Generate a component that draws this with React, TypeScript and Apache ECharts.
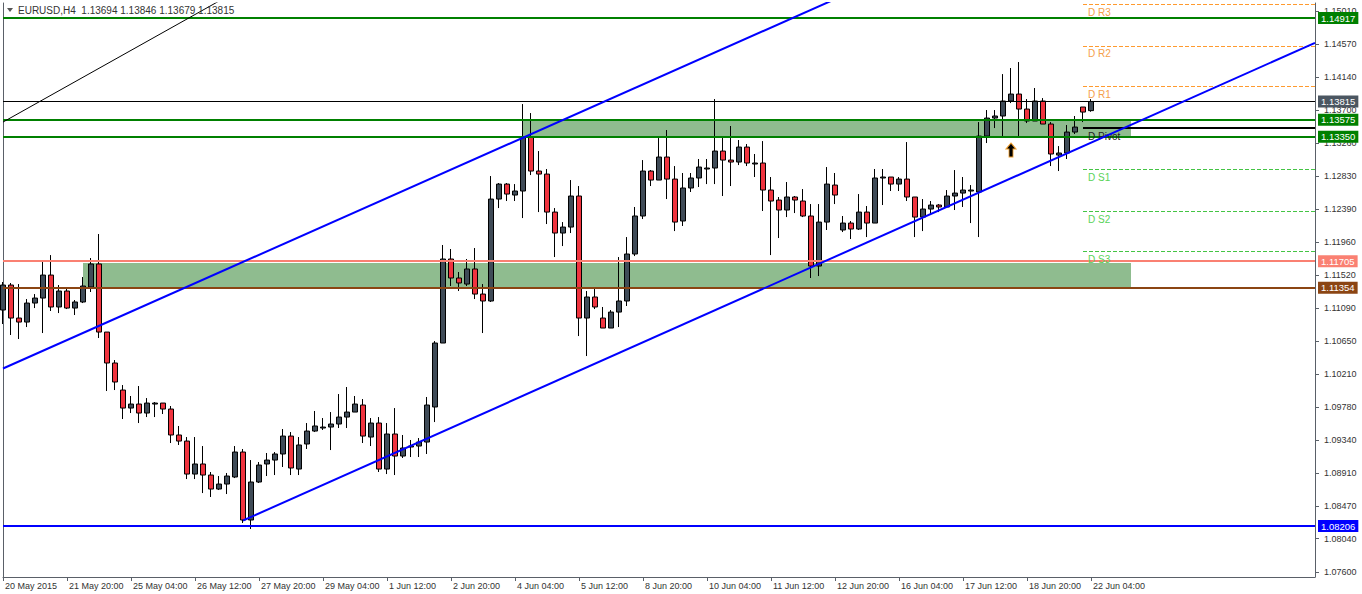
import React, { useEffect, useRef } from "react";
import * as echarts from "echarts";

// ---------- DATA ----------
const symbolName = "EURUSD,H4";

const tickLabels = [
  "20 May 2015", "21 May 20:00", "25 May 04:00", "26 May 12:00", "27 May 20:00",
  "29 May 04:00", "1 Jun 12:00", "2 Jun 20:00", "4 Jun 04:00", "5 Jun 12:00",
  "8 Jun 20:00", "10 Jun 04:00", "11 Jun 12:00", "12 Jun 20:00", "16 Jun 04:00",
  "17 Jun 12:00", "18 Jun 20:00", "22 Jun 04:00",
];

const priceTicks = [
  1.1501, 1.1457, 1.1414, 1.137, 1.1326, 1.1283, 1.1239, 1.1196, 1.1152,
  1.1109, 1.1065, 1.1021, 1.0978, 1.0934, 1.0891, 1.0847, 1.0804, 1.076,
];

// [open, close, low, high]
const candles = [
  [1.1106, 1.1139, 1.10875, 1.1143],
  [1.1139, 1.10954, 1.1073, 1.11417],
  [1.10954, 1.10901, 1.10677, 1.11403],
  [1.10901, 1.11152, 1.10835, 1.11205],
  [1.11152, 1.11218, 1.11086, 1.11271],
  [1.11218, 1.11522, 1.10756, 1.11707],
  [1.11522, 1.111, 1.11047, 1.11786],
  [1.111, 1.11311, 1.1102, 1.1139],
  [1.11311, 1.11086, 1.11073, 1.11364],
  [1.11086, 1.11166, 1.10994, 1.11192],
  [1.11166, 1.11377, 1.11152, 1.11496],
  [1.11364, 1.11668, 1.11298, 1.11747],
  [1.11668, 1.10769, 1.1069, 1.12064],
  [1.10769, 1.1036, 1.0999, 1.10769],
  [1.1036, 1.10109, 1.10003, 1.10399],
  [1.10003, 1.09765, 1.0962, 1.10069],
  [1.09765, 1.09818, 1.09699, 1.09924],
  [1.09818, 1.09699, 1.09567, 1.10056],
  [1.09699, 1.09831, 1.09646, 1.09897],
  [1.09818, 1.09831, 1.09646, 1.09845],
  [1.09831, 1.09752, 1.09686, 1.09831],
  [1.09752, 1.09409, 1.09303, 1.09792],
  [1.09409, 1.09329, 1.09277, 1.09528],
  [1.09329, 1.08893, 1.08827, 1.09382],
  [1.08893, 1.09026, 1.08827, 1.09382],
  [1.09026, 1.0888, 1.08642, 1.09263],
  [1.0888, 1.08695, 1.0859, 1.0892],
  [1.08695, 1.08761, 1.08682, 1.08867],
  [1.08761, 1.08867, 1.08629, 1.08907],
  [1.08854, 1.09184, 1.0884, 1.09263],
  [1.09184, 1.08286, 1.08246, 1.09224],
  [1.08286, 1.08788, 1.08167, 1.09078],
  [1.08788, 1.09012, 1.08775, 1.09052],
  [1.09026, 1.09078, 1.08867, 1.09171],
  [1.09078, 1.09158, 1.0888, 1.09184],
  [1.09158, 1.09395, 1.08986, 1.09488],
  [1.09395, 1.08973, 1.0888, 1.09448],
  [1.08959, 1.09277, 1.0888, 1.09382],
  [1.0929, 1.09461, 1.09224, 1.09567],
  [1.09461, 1.09528, 1.09448, 1.09726],
  [1.09501, 1.09514, 1.09475, 1.09633],
  [1.09514, 1.09554, 1.0921, 1.09712],
  [1.09554, 1.09646, 1.09501, 1.0995],
  [1.09646, 1.09712, 1.09501, 1.10043],
  [1.09712, 1.09818, 1.09712, 1.09924],
  [1.09805, 1.09395, 1.09303, 1.09884],
  [1.09382, 1.09567, 1.09263, 1.09633],
  [1.09567, 1.08959, 1.0892, 1.09646],
  [1.08959, 1.09422, 1.08893, 1.09567],
  [1.09422, 1.09131, 1.0888, 1.09765],
  [1.09131, 1.09237, 1.09105, 1.09409],
  [1.0925, 1.09263, 1.09118, 1.09343],
  [1.09263, 1.09316, 1.09118, 1.09369],
  [1.09316, 1.09805, 1.09158, 1.09911],
  [1.09779, 1.10624, 1.0958, 1.1065],
  [1.10624, 1.11734, 1.10624, 1.11919],
  [1.11734, 1.11483, 1.11377, 1.11866],
  [1.11483, 1.11417, 1.11311, 1.11562],
  [1.11403, 1.11602, 1.11377, 1.11734],
  [1.11602, 1.11271, 1.11205, 1.11879],
  [1.11271, 1.11179, 1.10756, 1.11403],
  [1.11179, 1.12526, 1.11166, 1.1283],
  [1.12526, 1.12724, 1.12407, 1.12738],
  [1.12724, 1.12592, 1.125, 1.12738],
  [1.12579, 1.12632, 1.125, 1.12724],
  [1.12632, 1.13345, 1.12275, 1.13781],
  [1.13345, 1.12896, 1.12843, 1.13662],
  [1.12896, 1.12856, 1.12354, 1.1316],
  [1.12856, 1.12354, 1.12196, 1.12923],
  [1.12354, 1.12077, 1.1176, 1.12407],
  [1.12077, 1.12156, 1.11905, 1.12222],
  [1.12156, 1.12566, 1.12077, 1.12777],
  [1.12566, 1.10954, 1.10716, 1.12698],
  [1.10954, 1.11232, 1.10452, 1.11311],
  [1.11232, 1.111, 1.11073, 1.11337],
  [1.10954, 1.10822, 1.10822, 1.111],
  [1.10822, 1.11033, 1.10822, 1.1106],
  [1.11033, 1.11179, 1.10835, 1.1176],
  [1.11179, 1.118, 1.11113, 1.12024],
  [1.118, 1.12302, 1.11773, 1.12421],
  [1.12302, 1.12896, 1.12262, 1.13041],
  [1.12896, 1.12777, 1.12698, 1.12909],
  [1.12777, 1.13081, 1.12777, 1.13332],
  [1.13081, 1.1279, 1.12526, 1.13438],
  [1.1279, 1.12222, 1.12103, 1.12962],
  [1.12236, 1.12672, 1.1217, 1.1287],
  [1.12672, 1.12804, 1.12619, 1.1287],
  [1.12804, 1.12949, 1.12685, 1.13055],
  [1.12923, 1.12936, 1.12724, 1.13055],
  [1.12936, 1.1316, 1.12724, 1.13847],
  [1.1316, 1.13041, 1.12566, 1.13332],
  [1.13041, 1.13015, 1.12698, 1.13491],
  [1.13015, 1.13213, 1.12975, 1.13306],
  [1.13213, 1.13002, 1.12962, 1.13253],
  [1.12989, 1.13002, 1.12817, 1.13121],
  [1.13002, 1.12645, 1.12368, 1.13292],
  [1.12645, 1.125, 1.11786, 1.12817],
  [1.12513, 1.12381, 1.12011, 1.12553],
  [1.12381, 1.12553, 1.12288, 1.12751],
  [1.12553, 1.12513, 1.12341, 1.12566],
  [1.125, 1.12302, 1.12288, 1.12658],
  [1.12302, 1.11641, 1.11483, 1.1246],
  [1.11641, 1.12222, 1.11509, 1.1246],
  [1.12222, 1.12724, 1.12117, 1.12949],
  [1.12711, 1.12579, 1.1246, 1.1287],
  [1.12117, 1.12209, 1.1209, 1.12302],
  [1.12209, 1.1213, 1.11998, 1.12236],
  [1.1213, 1.12354, 1.12117, 1.12592],
  [1.12354, 1.12209, 1.12024, 1.12434],
  [1.12209, 1.12804, 1.12209, 1.12923],
  [1.12804, 1.12817, 1.12447, 1.12923],
  [1.12817, 1.12724, 1.12632, 1.12817],
  [1.12724, 1.1279, 1.12632, 1.12817],
  [1.1279, 1.12553, 1.125, 1.13279],
  [1.12553, 1.12288, 1.12024, 1.12553],
  [1.12288, 1.12394, 1.12103, 1.12526],
  [1.12394, 1.12447, 1.12328, 1.125],
  [1.12447, 1.12421, 1.12354, 1.1246],
  [1.12421, 1.12566, 1.12421, 1.12645],
  [1.12566, 1.12605, 1.12381, 1.12909],
  [1.12605, 1.12645, 1.12421, 1.12817],
  [1.12632, 1.12645, 1.12209, 1.12711],
  [1.12619, 1.13358, 1.12024, 1.13543],
  [1.13358, 1.13596, 1.13266, 1.13702],
  [1.13596, 1.13623, 1.13464, 1.13702],
  [1.13623, 1.13821, 1.13345, 1.14177],
  [1.13821, 1.13913, 1.13794, 1.14257],
  [1.13913, 1.13715, 1.13358, 1.14336],
  [1.13715, 1.13557, 1.1353, 1.13847],
  [1.13557, 1.13821, 1.13557, 1.13993],
  [1.13821, 1.13517, 1.13517, 1.1386],
  [1.13517, 1.13121, 1.12962, 1.13543],
  [1.13107, 1.13134, 1.12896, 1.13226],
  [1.13134, 1.13411, 1.13055, 1.13504],
  [1.13411, 1.13477, 1.13385, 1.13623],
  [1.13742, 1.13675, 1.13543, 1.13742],
  [1.13694, 1.13815, 1.13679, 1.13846],
];

const slotCount = 165; // candle slots on the time axis (incl. empty right margin)

// horizontal levels (price tags on the right axis)
const levelValues = [1.14917, 1.13815, 1.13575, 1.1335, 1.11705, 1.11354, 1.08206];

// daily pivot levels
const pivotNames = ["D R3", "D R2", "D R1", "D Pivot", "D S1", "D S2", "D S3"];
const pivotValues = [1.15102, 1.14551, 1.14019, 1.13464, 1.12923, 1.12368, 1.11839];
const pivotFromIndex = 135;

// green zones: [fromIndex, toIndex, top, bottom]
const zones = [
  [65, 141, 1.13575, 1.1335],
  [10, 141, 1.1168, 1.11354],
];

// trend lines: [[index, price], [index, price]]
const channelUpper = [[0, 1.10287], [110, 1.15448]];
const channelLower = [[30, 1.08279], [164, 1.1459]];
const blackTrend = [[0, 1.13543], [30, 1.15319]];

// arrow marker
const arrowPoint = [126, 1.13174];

// ---------- STYLES ----------
const FONT = "'Liberation Sans', Arial, sans-serif";
const levelStyles = [
  { line: "#008000", width: 2, tag: "#008000" },
  { line: "#000000", width: 1, tag: "#4b5661" },
  { line: "#008000", width: 2, tag: "#008000" },
  { line: "#008000", width: 2, tag: "#008000" },
  { line: "#fa8072", width: 2, tag: "#fa8072" },
  { line: "#8b4513", width: 2, tag: "#8b4513" },
  { line: "#0000ff", width: 2, tag: "#0000ff" },
];
const pivotStyles = [
  { color: "#ff9a2e", text: "#f5a04a", type: "dashed", width: 1 },
  { color: "#ff9a2e", text: "#f5a04a", type: "dashed", width: 1 },
  { color: "#ff9a2e", text: "#f5a04a", type: "dashed", width: 1 },
  { color: "#000000", text: "#222222", type: "solid", width: 2 },
  { color: "#44c444", text: "#5ad35a", type: "dashed", width: 1 },
  { color: "#44c444", text: "#5ad35a", type: "dashed", width: 1 },
  { color: "#44c444", text: "#5ad35a", type: "dashed", width: 1 },
];

export default function App() {
  const ref = useRef<HTMLDivElement>(null);

  useEffect(() => {
    document.body.style.margin = "0";
    if (!ref.current) return;
    const chart = echarts.init(ref.current, null, { renderer: "svg" });

    const categories = Array.from({ length: slotCount }, (_, i) => String(i));
    const last = candles[candles.length - 1];
    const header = `${symbolName}  ${last[0].toFixed(5)} ${last[3].toFixed(5)} ${last[2].toFixed(5)} ${last[1].toFixed(5)}`;

    const isTick = (i: number) => i % 8 === 0 && i / 8 < tickLabels.length;

    const levelLines = levelValues.map((v, i) => ({
      yAxis: v,
      lineStyle: { color: levelStyles[i].line, width: levelStyles[i].width, type: "solid" },
      label: {
        show: true,
        position: "end",
        distance: 3,
        formatter: v.toFixed(5),
        color: "#ffffff",
        backgroundColor: levelStyles[i].tag,
        padding: [1, 3, 0, 3],
        fontSize: 9.5,
        fontFamily: FONT,
        lineHeight: 11,
      },
    }));

    const pivotLines = pivotValues.map((v, i) => [
      {
        coord: [pivotFromIndex, v],
        lineStyle: { color: pivotStyles[i].color, width: pivotStyles[i].width, type: pivotStyles[i].type },
        label: {
          show: true,
          position: "insideStartBottom",
          distance: [5, 3],
          formatter: pivotNames[i],
          color: pivotStyles[i].text,
          fontSize: 10,
          fontFamily: FONT,
        },
      },
      { coord: [slotCount - 1, v] },
    ]);

    const areas = zones.map((z) => [
      { coord: [z[0], z[2]], itemStyle: { color: "#8fbc8f" } },
      { coord: [z[1], z[3]] },
    ]);

    const trend = (data: number[][], color: string, width: number) => ({
      type: "line",
      data,
      symbol: "none",
      silent: true,
      clip: true,
      z: 6,
      lineStyle: { color, width },
    });

    chart.setOption({
      animation: false,
      grid: { left: 3, right: 47, top: 3, bottom: 17, containLabel: false },
      graphic: [
        {
          type: "polygon",
          shape: { points: [[7, 8], [13, 8], [10, 12]] },
          style: { fill: "#555" },
          z: 100,
        },
        {
          type: "text",
          left: 18,
          top: 5,
          style: { text: header, fill: "#333", font: `10px ${FONT}` },
          z: 100,
        },
      ],
      xAxis: {
        type: "category",
        data: categories,
        boundaryGap: false,
        axisLine: { show: true, lineStyle: { color: "#5a6068", width: 1 } },
        axisTick: { show: true, length: 4, interval: (i: number) => isTick(i), lineStyle: { color: "#5a6068" } },
        axisLabel: {
          interval: (i: number) => isTick(i),
          formatter: (_v: string, i: number) => tickLabels[i / 8] ?? "",
          align: "left",
          padding: [0, 0, 0, 2],
          margin: 4,
          fontSize: 9,
          color: "#333",
          fontFamily: FONT,
        },
        splitLine: { show: false },
      },
      yAxis: [
        {
          type: "value",
          position: "right",
          min: 1.07533,
          max: 1.15116,
          scale: true,
          axisLine: { show: true, lineStyle: { color: "#5a6068", width: 1 } },
          axisTick: { show: true, length: 4, customValues: priceTicks, lineStyle: { color: "#5a6068" } },
          axisLabel: {
            customValues: priceTicks,
            formatter: (v: number) => v.toFixed(5),
            margin: 9,
            fontSize: 9,
            color: "#333",
            fontFamily: FONT,
          },
          splitLine: { show: false },
        },
        {
          type: "value",
          position: "left",
          min: 1.07533,
          max: 1.15116,
          axisLine: { show: true, lineStyle: { color: "#5a6068", width: 1 } },
          axisTick: { show: false },
          axisLabel: { show: false },
          splitLine: { show: false },
        },
      ],
      series: [
        {
          type: "candlestick",
          data: candles,
          barWidth: 5,
          silent: true,
          itemStyle: {
            color: "#3f4b57",
            color0: "#f0343f",
            borderColor: "#000000",
            borderColor0: "#000000",
            borderWidth: 1,
          },
          markArea: { silent: true, data: areas },
          markLine: {
            silent: true,
            precision: 5,
            symbol: ["none", "none"],
            data: [...levelLines, ...pivotLines],
          },
          markPoint: {
            silent: true,
            data: [
              {
                coord: arrowPoint,
                symbol: "path://M5,0 L10,6 L7,6 L7,14 L3,14 L3,6 L0,6 Z",
                symbolSize: [10, 14],
                itemStyle: { color: "#000", borderColor: "#f0a030", borderWidth: 1 },
                label: { show: false },
              },
            ],
          },
        },
        trend(channelUpper, "#0000ff", 2),
        trend(channelLower, "#0000ff", 2),
        trend(blackTrend, "#000000", 1),
      ],
    });

    return () => chart.dispose();
  }, []);

  return <div ref={ref} style={{ width: 1362, height: 594 }} />;
}
